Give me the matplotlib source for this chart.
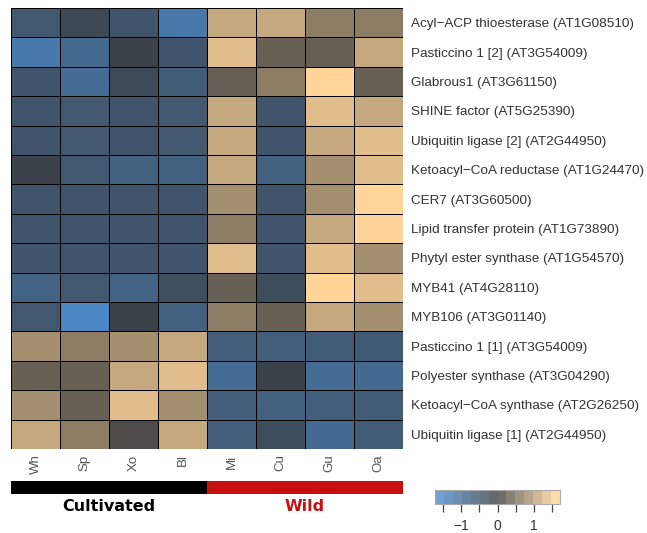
import numpy as np
import matplotlib
matplotlib.use("Agg")
import matplotlib.pyplot as plt
from matplotlib.colors import LinearSegmentedColormap, ListedColormap, Normalize
from matplotlib.cm import ScalarMappable

plt.rcParams["font.family"] = ["Liberation Sans", "DejaVu Sans"]

samples = ["Wh", "Sp", "Xo", "Bl", "Mi", "Cu", "Gu", "Oa"]
genes = [
    "Acyl\u2212ACP thioesterase (AT1G08510)",
    "Pasticcino 1 [2] (AT3G54009)",
    "Glabrous1 (AT3G61150)",
    "SHINE factor (AT5G25390)",
    "Ubiquitin ligase [2] (AT2G44950)",
    "Ketoacyl\u2212CoA reductase (AT1G24470)",
    "CER7 (AT3G60500)",
    "Lipid transfer protein (AT1G73890)",
    "Phytyl ester synthase (AT1G54570)",
    "MYB41 (AT4G28110)",
    "MYB106 (AT3G01140)",
    "Pasticcino 1 [1] (AT3G54009)",
    "Polyester synthase (AT3G04290)",
    "Ketoacyl\u2212CoA synthase (AT2G26250)",
    "Ubiquitin ligase [1] (AT2G44950)",
]
values = [
    [-0.60, -0.25, -0.55, -1.33, 1.20, 1.20, 0.70, 0.70],
    [-1.35, -1.00, -0.12, -0.55, 1.45, 0.40, 0.40, 1.20],
    [-0.55, -1.05, -0.30, -0.70, 0.40, 0.70, 1.72, 0.40],
    [-0.55, -0.60, -0.55, -0.60, 1.20, -0.55, 1.45, 1.20],
    [-0.55, -0.60, -0.55, -0.60, 1.20, -0.55, 1.20, 1.45],
    [-0.12, -0.60, -0.80, -0.80, 1.20, -0.80, 0.92, 1.45],
    [-0.55, -0.55, -0.55, -0.55, 0.92, -0.55, 0.92, 1.72],
    [-0.55, -0.55, -0.55, -0.55, 0.70, -0.55, 1.20, 1.70],
    [-0.55, -0.55, -0.55, -0.55, 1.45, -0.55, 1.45, 0.92],
    [-0.85, -0.60, -0.85, -0.40, 0.40, -0.35, 1.72, 1.45],
    [-0.60, -1.65, -0.12, -0.80, 0.70, 0.40, 1.20, 0.92],
    [0.92, 0.70, 0.92, 1.20, -0.75, -0.75, -0.70, -0.65],
    [0.40, 0.40, 1.20, 1.45, -1.05, -0.12, -1.05, -1.00],
    [0.92, 0.40, 1.45, 0.92, -0.75, -0.80, -0.75, -0.70],
    [1.20, 0.70, 0.15, 1.20, -0.75, -0.35, -1.00, -0.70],
]
groups = ["Cultivated", "Wild"]
group_sizes = [4, 4]
group_colors = ["#000000", "#c80f0f"]
cbar_ticks = [-1.5, -1.0, -0.5, 0.0, 0.5, 1.0, 1.5]
cbar_labels = ["", "\u22121", "", "0", "", "1", ""]

vmax = 1.72
cmap = LinearSegmentedColormap.from_list(
    "bt", [(0.0, "#4b89c8"), (0.5, "#3b3d40"), (1.0, "#ffd598")])
norm = Normalize(-vmax, vmax)

fig = plt.figure(figsize=(6.47, 5.33), dpi=100)
W, H = 647, 533

def fr(x0, y0, x1, y1):
    return [x0 / W, 1 - y1 / H, (x1 - x0) / W, (y1 - y0) / H]

ax = fig.add_axes(fr(11, 8, 403, 449))
data = np.array(values)
ax.pcolormesh(np.arange(len(samples) + 1), np.arange(len(genes) + 1), data,
              cmap=cmap, norm=norm, edgecolors="black", linewidth=0.6)
ax.set_xlim(0, len(samples))
ax.set_ylim(len(genes), 0)
ax.set_yticks(np.arange(len(genes)) + 0.5)
ax.set_yticklabels(genes, fontsize=9.7, color="#333333")
ax.yaxis.tick_right()
ax.tick_params(axis="y", length=0, pad=6)
ax.set_xticks(np.arange(len(samples)) + 0.5)
ax.set_xticklabels(samples, rotation=90, fontsize=9.5, color="#555555")
ax.tick_params(axis="x", length=0, pad=4)
for s in ax.spines.values():
    s.set_visible(False)

# group bar
gax = fig.add_axes(fr(11, 481, 403, 494))
start = 0
for g, n, c in zip(groups, group_sizes, group_colors):
    gax.barh(0, n, left=start, height=1, color=c)
    gax.text(start + n / 2, -1.45, g, ha="center", va="center",
             fontsize=11.5, fontweight="bold", color=c, family="DejaVu Sans")
    start += n
gax.set_xlim(0, sum(group_sizes))
gax.set_ylim(-0.5, 0.5)
gax.axis("off")

# colorbar
cax = fig.add_axes(fr(435, 490, 560, 504))
base = cmap(np.linspace(0, 1, 14))
light = base.copy()
light[:, :3] = base[:, :3] * 0.8 + 0.2
cb_cmap = ListedColormap(light)
sm = ScalarMappable(norm=norm, cmap=cb_cmap)
cb = fig.colorbar(sm, cax=cax, orientation="horizontal")
cb.outline.set_edgecolor("#aaaaaa")
cb.outline.set_linewidth(0.8)
cb.set_ticks(cbar_ticks)
cb.set_ticklabels(cbar_labels)
cax.tick_params(axis="x", length=6, width=0.9, color="#444444", labelsize=10,
                labelcolor="#333333", pad=5)

fig.savefig("out.png", dpi=100)
